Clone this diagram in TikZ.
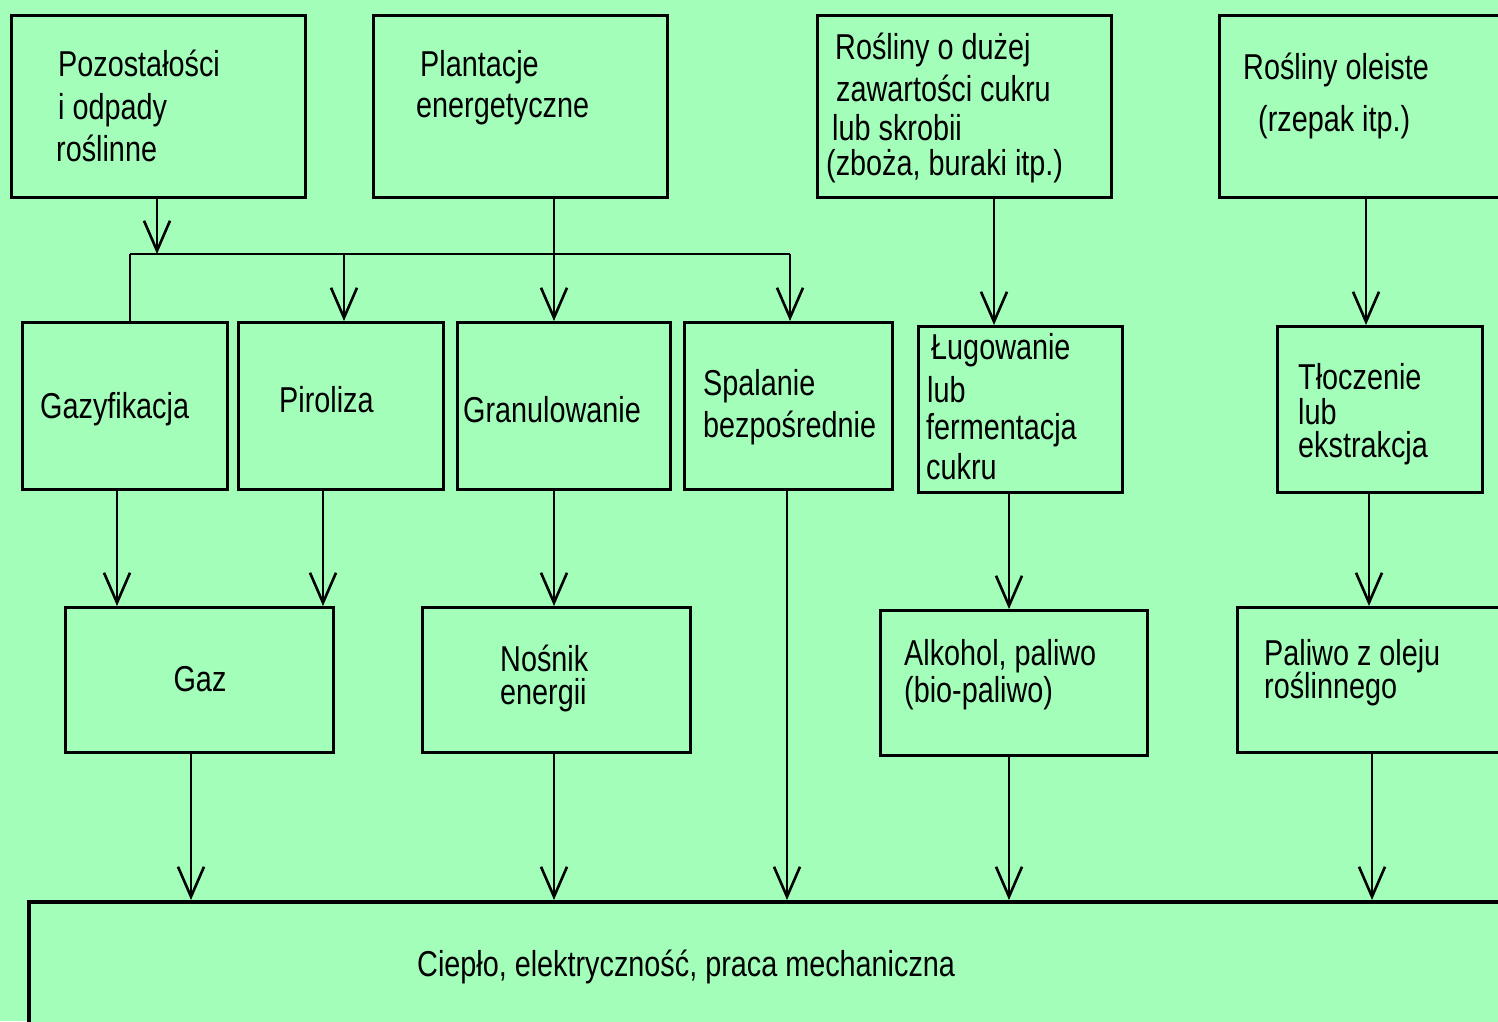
\documentclass[tikz,border=0pt]{standalone}
\usepackage{fontspec}
\setmainfont[FakeStretch=0.8]{Liberation Sans}
\usetikzlibrary{arrows.meta}
\definecolor{bg}{RGB}{163,254,186}
\tikzset{
  box/.style={draw, line width=3pt, anchor=north west, inner sep=0pt, fill=bg},
  txt/.style={anchor=base west, inner sep=0pt, font=\fontsize{36}{41}\selectfont},
  ln/.style={line width=2.6pt},
  arr/.style={line width=2.6pt, -{Straight Barb[length=30pt, width=26pt, line width=2.6pt]}},
}
\begin{document}
\begin{tikzpicture}[x=1pt, y=-1pt]
\useasboundingbox (0,0) rectangle (1498,1021);
\fill[bg] (0,0) rectangle (1498,1021);
\clip (0,0) rectangle (1498,1021);
% top row
\node[box, minimum width=294pt, minimum height=182pt] (b1) at (10,14) {};
\node[box, minimum width=294pt, minimum height=182pt] (b2) at (372,14) {};
\node[box, minimum width=294pt, minimum height=182pt] (b3) at (816,14) {};
\node[box, minimum width=320pt, minimum height=182pt] (b4) at (1218,14) {};
% second row
\node[box, minimum width=205pt, minimum height=167pt] (g1) at (21,321) {};
\node[box, minimum width=205pt, minimum height=167pt] (p1) at (237,321) {};
\node[box, minimum width=213pt, minimum height=167pt] (gr) at (456,321) {};
\node[box, minimum width=208pt, minimum height=167pt] (sp) at (683,321) {};
\node[box, minimum width=204pt, minimum height=166pt] (lu) at (917,325) {};
\node[box, minimum width=205pt, minimum height=166pt] (tl) at (1276,325) {};
% third row
\node[box, minimum width=268pt, minimum height=145pt] (gaz) at (64,606) {};
\node[box, minimum width=268pt, minimum height=145pt] (no) at (421,606) {};
\node[box, minimum width=267pt, minimum height=145pt] (al) at (879,609) {};
\node[box, minimum width=300pt, minimum height=145pt] (pa) at (1236,606) {};
% bottom
\node[box, line width=3.5pt, minimum width=1500pt, minimum height=160pt] (bot) at (27,900) {};

% texts
\node[txt] (t1a) at (58,76) {Pozostałości};
\node[txt] (t1b) at (58,119) {i odpady};
\node[txt] (t1c) at (56,161) {roślinne};
\node[txt] (t2a) at (420,76) {Plantacje};
\node[txt] (t2b) at (416,117) {energetyczne};
\node[txt] (t3a) at (835,59) {Rośliny o dużej};
\node[txt] (t3b) at (836,101) {zawartości cukru};
\node[txt] (t3c) at (832,140) {lub skrobii};
\node[txt] (t3d) at (826,175) {(zboża, buraki itp.)};
\node[txt] (t4a) at (1243,79) {Rośliny oleiste};
\node[txt] (t4b) at (1258,131) {(rzepak itp.)};
\node[txt] (tg1) at (40,418) {Gazyfikacja};
\node[txt] (tp1) at (279,412) {Piroliza};
\node[txt] (tgr) at (463,422) {Granulowanie};
\node[txt] (tspa) at (703,395) {Spalanie};
\node[txt] (tspb) at (703,437) {bezpośrednie};
\node[txt] (tlua) at (931,359) {Ługowanie};
\node[txt] (tlub) at (927,402) {lub};
\node[txt] (tluc) at (926,439) {fermentacja};
\node[txt] (tlud) at (926,479) {cukru};
\node[txt] (ttla) at (1298,389) {Tłoczenie};
\node[txt] (ttlb) at (1298,424) {lub};
\node[txt] (ttlc) at (1298,457) {ekstrakcja};
\node[txt, anchor=base] (tgaz) at (200,691) {Gaz};
\node[txt] (tnoa) at (500,671) {Nośnik};
\node[txt] (tnob) at (500,704) {energii};
\node[txt] (tala) at (904,665) {Alkohol, paliwo};
\node[txt] (talb) at (904,702) {(bio-paliwo)};
\node[txt] (tpaa) at (1264,665) {Paliwo z oleju};
\node[txt] (tpab) at (1264,698) {roślinnego};
\node[txt] (tbot) at (417,976) {Ciepło, elektryczność, praca mechaniczna};

% column coordinates
\coordinate (jl) at (130,254);
\coordinate (jm) at (157,254);
\coordinate (jp) at (344,254);
\coordinate (jg) at (554,254);
\coordinate (jr) at (790,254);
\coordinate (k994) at (994,0);
\coordinate (k1366) at (1366,0);
\coordinate (k117) at (117,0);
\coordinate (k323) at (323,0);
\coordinate (k554) at (554,0);
\coordinate (k787) at (787,0);
\coordinate (k1009) at (1009,0);
\coordinate (k1369) at (1369,0);
\coordinate (k191) at (191,0);
\coordinate (k1372) at (1372,0);

% top connectors
\draw[arr] (b1.south -| jm) -- (jm);
\draw[ln] (jl) -- (jr);
\draw[ln] (jl) -- (g1.north -| jl);
\draw[arr] (jp) -- (p1.north -| jp);
\draw[arr] (b2.south -| jg) -- (gr.north -| jg);
\draw[arr] (jr) -- (sp.north -| jr);
\draw[arr] (b3.south -| k994) -- (lu.north -| k994);
\draw[arr] (b4.south -| k1366) -- (tl.north -| k1366);
% middle connectors
\draw[arr] (g1.south -| k117) -- (gaz.north -| k117);
\draw[arr] (p1.south -| k323) -- (gaz.north -| k323);
\draw[arr] (gr.south -| k554) -- (no.north -| k554);
\draw[arr] (lu.south -| k1009) -- (al.north -| k1009);
\draw[arr] (tl.south -| k1369) -- (pa.north -| k1369);
% bottom connectors
\draw[arr] (gaz.south -| k191) -- (bot.north -| k191);
\draw[arr] (no.south -| k554) -- (bot.north -| k554);
\draw[arr] (sp.south -| k787) -- (bot.north -| k787);
\draw[arr] (al.south -| k1009) -- (bot.north -| k1009);
\draw[arr] (pa.south -| k1372) -- (bot.north -| k1372);
\end{tikzpicture}
\end{document}
